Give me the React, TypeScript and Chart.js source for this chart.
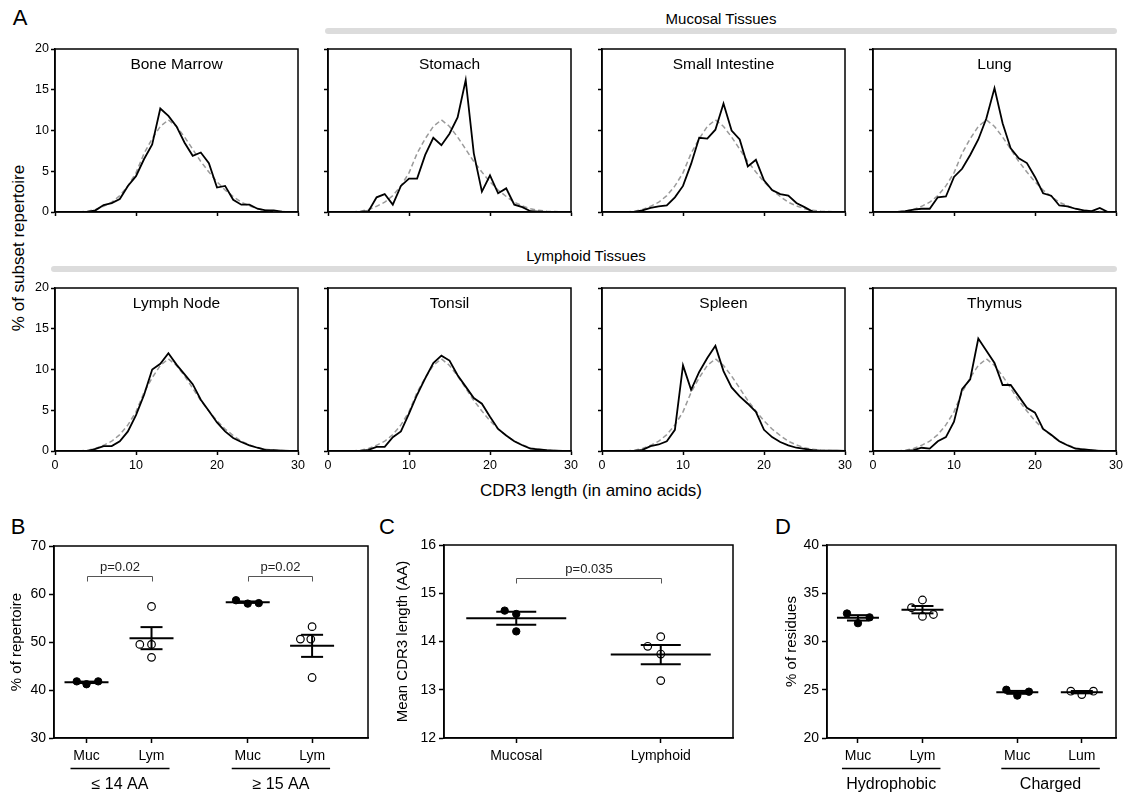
import React, { useEffect, useRef } from "react";
import { Chart, registerables } from "chart.js";

Chart.register(...registerables);

const FONT = 'Arial, "Liberation Sans", Helvetica, sans-serif';

// ---------------- Panel A data ----------------
const cdr3Lengths = [0, 1, 2, 3, 4, 5, 6, 7, 8, 9, 10, 11, 12, 13, 14, 15, 16, 17, 18, 19, 20, 21, 22, 23, 24, 25, 26, 27, 28, 29, 30];
const referenceDist = [0, 0, 0, 0, 0.1, 0.3, 0.7, 1.2, 2.0, 3.2, 4.8, 7.2, 9.0, 10.5, 11.3, 10.5, 9.2, 7.7, 6.2, 4.9, 3.7, 2.7, 1.9, 1.2, 0.75, 0.4, 0.2, 0.1, 0.05, 0, 0];
const boneMarrow = [0, 0, 0, 0, 0, 0.2, 0.85, 1.1, 1.6, 3.2, 4.4, 6.5, 8.3, 12.7, 11.8, 10.5, 8.5, 6.9, 7.3, 6.0, 3.0, 3.2, 1.5, 0.9, 0.9, 0.4, 0.2, 0.2, 0.05, 0, 0];
const stomach = [0, 0, 0, 0, 0, 0.1, 1.8, 2.2, 0.9, 3.2, 4.1, 4.1, 7.0, 9.1, 8.2, 9.6, 11.6, 16.2, 7.2, 2.5, 4.5, 2.3, 2.9, 0.9, 0.6, 0.1, 0.05, 0, 0, 0, 0];
const smallIntestine = [0, 0, 0, 0, 0, 0.2, 0.5, 0.7, 0.8, 1.8, 3.2, 5.9, 9.1, 9.0, 10.1, 13.3, 10.0, 8.9, 5.6, 6.4, 3.9, 2.7, 2.2, 2.0, 1.1, 0.6, 0.05, 0, 0, 0, 0];
const lung = [0, 0, 0, 0, 0.1, 0.3, 0.4, 0.4, 1.8, 1.9, 4.3, 5.3, 7.0, 8.9, 11.5, 15.2, 10.9, 7.8, 6.6, 6.0, 4.3, 2.3, 2.0, 0.8, 0.7, 0.4, 0.2, 0.1, 0.5, 0, 0];
const lymphNode = [0, 0, 0, 0, 0, 0.25, 0.6, 0.6, 1.2, 2.4, 4.4, 6.9, 10.0, 10.7, 12.0, 10.6, 9.4, 8.2, 6.3, 4.9, 3.5, 2.4, 1.6, 1.1, 0.7, 0.4, 0.15, 0.1, 0.05, 0, 0];
const tonsil = [0, 0, 0, 0, 0, 0.15, 0.5, 0.5, 1.7, 2.4, 4.6, 6.9, 8.9, 10.8, 11.7, 11.1, 9.3, 7.9, 6.5, 5.8, 4.2, 2.7, 1.9, 1.2, 0.7, 0.3, 0.2, 0.1, 0.05, 0, 0];
const spleen = [0, 0, 0, 0, 0, 0.15, 0.6, 0.8, 1.2, 2.6, 10.5, 7.5, 9.7, 11.4, 12.9, 9.8, 7.8, 6.7, 5.8, 4.8, 2.6, 1.7, 1.1, 0.7, 0.4, 0.25, 0.1, 0.05, 0.05, 0.05, 0];
const thymus = [0, 0, 0, 0, 0, 0.1, 0.4, 0.3, 1.2, 1.7, 3.6, 7.6, 8.8, 13.8, 12.3, 10.8, 8.1, 8.1, 6.7, 5.3, 4.7, 2.7, 2.0, 1.2, 0.7, 0.3, 0.2, 0.1, 0, 0, 0];
const histTitles = ["Bone Marrow", "Stomach", "Small Intestine", "Lung", "Lymph Node", "Tonsil", "Spleen", "Thymus"];
const histSeries = [boneMarrow, stomach, smallIntestine, lung, lymphNode, tonsil, spleen, thymus];
const histXTicks = [0, 10, 20, 30];
const histYTicks = [0, 5, 10, 15, 20];

// ---------------- Panel B data ----------------
const bGroupX = [1, 2, 3.48, 4.47];
const bTickLabels = ["Muc", "Lym", "Muc", "Lym"];
const bGroupTitles = ["≤ 14 AA", "≥ 15 AA"];
const bGroupFilled = [true, false, true, false];
const bPointGroup = [0, 0, 0, 1, 1, 1, 1, 2, 2, 2, 3, 3, 3, 3];
const bPointJitter = [-0.15, 0, 0.18, -0.18, 0, 0, 0, -0.18, 0, 0.17, -0.18, -0.02, 0, 0];
const bPointValue = [41.8, 41.2, 41.8, 49.5, 49.5, 57.4, 46.8, 58.7, 58.0, 58.1, 50.6, 50.6, 53.2, 42.6];
const bMeans = [41.6, 50.8, 58.3, 49.2];
const bSems = [0.15, 2.3, 0.15, 2.3];
const bPValues = ["p=0.02", "p=0.02"];
const bBracketLevel = 63.8;
const bYTicks = [30, 40, 50, 60, 70];

// ---------------- Panel C data ----------------
const cGroupX = [1, 2];
const cTickLabels = ["Mucosal", "Lymphoid"];
const cGroupFilled = [true, false];
const cPointGroup = [0, 0, 0, 1, 1, 1, 1];
const cPointJitter = [-0.08, 0, 0, -0.09, 0, 0, 0];
const cPointValue = [14.64, 14.57, 14.21, 13.9, 14.1, 13.74, 13.19];
const cMeans = [14.48, 13.73];
const cSems = [0.135, 0.2];
const cPValues = ["p=0.035"];
const cBracketLevel = 15.32;
const cYTicks = [12, 13, 14, 15, 16];

// ---------------- Panel D data ----------------
const dGroupX = [1, 2, 3.47, 4.47];
const dTickLabels = ["Muc", "Lym", "Muc", "Lum"];
const dGroupTitles = ["Hydrophobic", "Charged"];
const dGroupFilled = [true, false, true, false];
const dPointGroup = [0, 0, 0, 1, 1, 1, 1, 2, 2, 2, 3, 3, 3];
const dPointJitter = [-0.17, 0, 0.18, -0.17, 0, 0, 0.17, -0.17, 0, 0.18, -0.17, 0, 0.18];
const dPointValue = [32.9, 31.9, 32.5, 33.5, 34.3, 32.6, 32.8, 25.0, 24.4, 24.8, 24.85, 24.5, 24.85];
const dMeans = [32.45, 33.3, 24.73, 24.75];
const dSems = [0.28, 0.38, 0.15, 0.12];
const dYTicks = [20, 25, 30, 35, 40];

// ---------------- helpers ----------------
const boxPlugin = {
  id: "boxFrame",
  afterDraw(chart: any) {
    const { ctx, chartArea } = chart;
    ctx.save();
    ctx.strokeStyle = "#000";
    ctx.lineWidth = 1.5;
    ctx.strokeRect(chartArea.left, chartArea.top, chartArea.right - chartArea.left, chartArea.bottom - chartArea.top);
    ctx.restore();
  },
};

function titlePlugin(text: string) {
  return {
    id: "panelTitle",
    afterDraw(chart: any) {
      const { ctx, chartArea } = chart;
      ctx.save();
      ctx.font = `15.5px ${FONT}`;
      ctx.fillStyle = "#000";
      ctx.textAlign = "center";
      ctx.textBaseline = "middle";
      ctx.fillText(text, (chartArea.left + chartArea.right) / 2, chartArea.top + 16);
      ctx.restore();
    },
  };
}

function histConfig(title: string, values: number[], showX: boolean, showY: boolean) {
  return {
    type: "line",
    data: {
      datasets: [
        {
          data: cdr3Lengths.map((x, i) => ({ x, y: values[i] })),
          borderColor: "#000",
          borderWidth: 1.8,
          pointRadius: 0,
          tension: 0,
        },
        {
          data: cdr3Lengths.map((x, i) => ({ x, y: referenceDist[i] })),
          borderColor: "#9a9a9a",
          borderDash: [5, 3],
          borderWidth: 1.5,
          pointRadius: 0,
          tension: 0,
        },
      ],
    },
    options: {
      responsive: false,
      animation: false,
      devicePixelRatio: 1,
      layout: { padding: { top: 10, right: 10, left: 0, bottom: 0 } },
      plugins: { legend: { display: false }, tooltip: { enabled: false } },
      scales: {
        x: {
          type: "linear",
          min: 0,
          max: 30,
          afterBuildTicks: (s: any) => {
            s.ticks = histXTicks.map((v) => ({ value: v }));
          },
          ticks: { display: showX, font: { family: FONT, size: 12.5 }, color: "#000", padding: 3, maxRotation: 0, autoSkip: false },
          grid: { display: true, drawOnChartArea: false, drawTicks: true, tickLength: 4, tickColor: "#000", tickWidth: 1.5 },
          border: { display: true, color: "#000", width: 1.5 },
          afterFit: (s: any) => {
            s.height = 25;
          },
        },
        y: {
          min: 0,
          max: 20,
          afterBuildTicks: (s: any) => {
            s.ticks = histYTicks.map((v) => ({ value: v }));
          },
          ticks: { display: showY, font: { family: FONT, size: 12.5 }, color: "#000", padding: 2 },
          grid: { display: true, drawOnChartArea: false, drawTicks: true, tickLength: 4, tickColor: "#000", tickWidth: 1.5 },
          border: { display: true, color: "#000", width: 1.5 },
          afterFit: (s: any) => {
            s.width = 40;
          },
        },
      },
    },
    plugins: [boxPlugin, titlePlugin(title)],
  };
}

interface DotPanel {
  groupX: number[];
  tickLabels: string[];
  filled: boolean[];
  pointGroup: number[];
  jitter: number[];
  values: number[];
  means: number[];
  sems: number[];
  yTicks: number[];
  xMin: number;
  xMax: number;
  yTitle: string;
  titlePad: number;
  axisW: number;
  meanHalf: number;
  capHalf: number;
  brackets: { g1: number; g2: number; level: number; text: string }[];
  groupTitles: { g1: number; g2: number; text: string }[];
}

function dotConfig(p: DotPanel) {
  const filledPts: { x: number; y: number }[] = [];
  const openPts: { x: number; y: number }[] = [];
  p.values.forEach((v, i) => {
    const g = p.pointGroup[i];
    const pt = { x: p.groupX[g] + p.jitter[i], y: v };
    (p.filled[g] ? filledPts : openPts).push(pt);
  });
  const overlay = {
    id: "dotOverlay",
    afterDatasetsDraw(chart: any) {
      const { ctx, scales } = chart;
      const xs = scales.x;
      const ys = scales.y;
      ctx.save();
      ctx.strokeStyle = "#000";
      ctx.lineWidth = 2;
      const line = (x1: number, y1: number, x2: number, y2: number) => {
        ctx.beginPath();
        ctx.moveTo(x1, y1);
        ctx.lineTo(x2, y2);
        ctx.stroke();
      };
      p.means.forEach((m, g) => {
        const cx = xs.getPixelForValue(p.groupX[g]);
        const my = ys.getPixelForValue(m);
        const hi = ys.getPixelForValue(m + p.sems[g]);
        const lo = ys.getPixelForValue(m - p.sems[g]);
        line(cx, hi, cx, lo);
        line(cx - p.capHalf, hi, cx + p.capHalf, hi);
        line(cx - p.capHalf, lo, cx + p.capHalf, lo);
        line(cx - p.meanHalf, my, cx + p.meanHalf, my);
      });
      // significance brackets
      ctx.strokeStyle = "#555";
      ctx.lineWidth = 1;
      ctx.fillStyle = "#222";
      ctx.font = `13px ${FONT}`;
      ctx.textAlign = "center";
      ctx.textBaseline = "alphabetic";
      p.brackets.forEach((b) => {
        const x1 = Math.round(xs.getPixelForValue(p.groupX[b.g1])) + 0.5;
        const x2 = Math.round(xs.getPixelForValue(p.groupX[b.g2])) + 0.5;
        const y = Math.round(ys.getPixelForValue(b.level)) + 0.5;
        ctx.beginPath();
        ctx.moveTo(x1, y + 5);
        ctx.lineTo(x1, y);
        ctx.lineTo(x2, y);
        ctx.lineTo(x2, y + 5);
        ctx.stroke();
        ctx.fillText(b.text, (x1 + x2) / 2, y - 6);
      });
      ctx.restore();
    },
    afterDraw(chart: any) {
      const { ctx, scales, chartArea } = chart;
      const xs = scales.x;
      ctx.save();
      ctx.strokeStyle = "#000";
      ctx.lineWidth = 1.3;
      ctx.fillStyle = "#000";
      ctx.font = `16px ${FONT}`;
      ctx.textAlign = "center";
      ctx.textBaseline = "middle";
      p.groupTitles.forEach((gt) => {
        const x1 = xs.getPixelForValue(p.groupX[gt.g1]) - 16;
        const x2 = xs.getPixelForValue(p.groupX[gt.g2]) + 18;
        const y = chartArea.bottom + 30.5;
        ctx.beginPath();
        ctx.moveTo(x1, y);
        ctx.lineTo(x2, y);
        ctx.stroke();
        ctx.fillText(gt.text, (x1 + x2) / 2, chartArea.bottom + 47);
      });
      ctx.restore();
    },
  };
  return {
    type: "scatter",
    data: {
      datasets: [
        {
          data: filledPts,
          pointRadius: 3.7,
          pointBackgroundColor: "#000",
          pointBorderColor: "#000",
          pointBorderWidth: 1,
        },
        {
          data: openPts,
          pointRadius: 3.8,
          pointBackgroundColor: "#fff",
          pointBorderColor: "#000",
          pointBorderWidth: 1.2,
        },
      ],
    },
    options: {
      responsive: false,
      animation: false,
      devicePixelRatio: 1,
      layout: { padding: { top: 14, right: 10, left: 0, bottom: 0 } },
      plugins: { legend: { display: false }, tooltip: { enabled: false } },
      scales: {
        x: {
          type: "linear",
          min: p.xMin,
          max: p.xMax,
          afterBuildTicks: (s: any) => {
            s.ticks = p.groupX.map((v) => ({ value: v }));
          },
          ticks: {
            font: { family: FONT, size: 14 },
            color: "#000",
            padding: 5,
            maxRotation: 0,
            autoSkip: false,
            callback: (_v: any, i: number) => p.tickLabels[i],
          },
          grid: { display: true, drawOnChartArea: false, drawTicks: true, tickLength: 5, tickColor: "#000", tickWidth: 1.5 },
          border: { display: true, color: "#000", width: 1.5 },
          afterFit: (s: any) => {
            s.height = 60;
          },
        },
        y: {
          min: p.yTicks[0],
          max: p.yTicks[p.yTicks.length - 1],
          afterBuildTicks: (s: any) => {
            s.ticks = p.yTicks.map((v) => ({ value: v }));
          },
          ticks: { font: { family: FONT, size: 14 }, color: "#000", padding: 3 },
          grid: { display: true, drawOnChartArea: false, drawTicks: true, tickLength: 5, tickColor: "#000", tickWidth: 1.5 },
          border: { display: true, color: "#000", width: 1.5 },
          title: {
            display: true,
            text: p.yTitle,
            color: "#000",
            font: { family: FONT, size: 15 },
            padding: { top: p.titlePad, bottom: 0 },
          },
          afterFit: (s: any) => {
            s.width = p.axisW;
          },
        },
      },
    },
    plugins: [boxPlugin, overlay],
  };
}

function ChartCanvas(props: { left: number; top: number; width: number; height: number; make: () => any }) {
  const ref = useRef<HTMLCanvasElement>(null);
  useEffect(() => {
    const chart = new Chart(ref.current as HTMLCanvasElement, props.make());
    return () => chart.destroy();
  }, []);
  return (
    <canvas
      ref={ref}
      width={props.width}
      height={props.height}
      style={{ position: "absolute", left: props.left, top: props.top, width: props.width, height: props.height }}
    />
  );
}

function Label(props: { x: number; y: number; size: number; text: string; rotate?: boolean }) {
  return (
    <div
      style={{
        position: "absolute",
        left: props.x,
        top: props.y,
        transform: `translate(-50%, -50%)${props.rotate ? " rotate(-90deg)" : ""}`,
        fontSize: props.size,
        lineHeight: 1,
        whiteSpace: "nowrap",
        color: "#000",
      }}
    >
      {props.text}
    </div>
  );
}

export default function App() {
  const colLeft = [55, 328, 602, 873];
  const rowTop = [49, 288];
  const plotW = 243;
  const plotH = 163;

  const panelB: DotPanel = {
    groupX: bGroupX, tickLabels: bTickLabels, filled: bGroupFilled, pointGroup: bPointGroup, jitter: bPointJitter,
    values: bPointValue, means: bMeans, sems: bSems, yTicks: bYTicks, xMin: 0.5, xMax: 5.33,
    yTitle: "% of repertoire", titlePad: 8, axisW: 54, meanHalf: 22, capHalf: 11,
    brackets: [
      { g1: 0, g2: 1, level: bBracketLevel, text: bPValues[0] },
      { g1: 2, g2: 3, level: bBracketLevel, text: bPValues[1] },
    ],
    groupTitles: [
      { g1: 0, g2: 1, text: bGroupTitles[0] },
      { g1: 2, g2: 3, text: bGroupTitles[1] },
    ],
  };
  const panelC: DotPanel = {
    groupX: cGroupX, tickLabels: cTickLabels, filled: cGroupFilled, pointGroup: cPointGroup, jitter: cPointJitter,
    values: cPointValue, means: cMeans, sems: cSems, yTicks: cYTicks, xMin: 0.5, xMax: 2.5,
    yTitle: "Mean CDR3 length (AA)", titlePad: 10, axisW: 60, meanHalf: 50, capHalf: 20,
    brackets: [{ g1: 0, g2: 1, level: cBracketLevel, text: cPValues[0] }],
    groupTitles: [],
  };
  const panelD: DotPanel = {
    groupX: dGroupX, tickLabels: dTickLabels, filled: dGroupFilled, pointGroup: dPointGroup, jitter: dPointJitter,
    values: dPointValue, means: dMeans, sems: dSems, yTicks: dYTicks, xMin: 0.52, xMax: 5.0,
    yTitle: "% of residues", titlePad: 16, axisW: 60, meanHalf: 21, capHalf: 11,
    brackets: [],
    groupTitles: [
      { g1: 0, g2: 1, text: dGroupTitles[0] },
      { g1: 2, g2: 3, text: dGroupTitles[1] },
    ],
  };

  return (
    <div style={{ position: "absolute", left: 0, top: 0, width: 1128, height: 798, background: "#fff", fontFamily: FONT, overflow: "hidden" }}>
      {/* Panel letters */}
      <Label x={20} y={18} size={22} text="A" />
      <Label x={18} y={527} size={22} text="B" />
      <Label x={387} y={527} size={22} text="C" />
      <Label x={783} y={527} size={22} text="D" />

      {/* Group bars */}
      <Label x={721} y={18} size={15} text="Mucosal Tissues" />
      <div style={{ position: "absolute", left: 325, top: 28, width: 792, height: 6, borderRadius: 3, background: "#dcdcdc" }} />
      <Label x={586} y={255} size={15} text="Lymphoid Tissues" />
      <div style={{ position: "absolute", left: 51, top: 266, width: 1066, height: 6, borderRadius: 3, background: "#dcdcdc" }} />

      {/* Shared axis labels for A */}
      <Label x={18} y={248} size={17} text="% of subset repertoire" rotate />
      <Label x={591} y={490} size={17} text="CDR3 length (in amino acids)" />

      {histSeries.map((vals, i) => {
        const row = Math.floor(i / 4);
        const col = i % 4;
        return (
          <ChartCanvas
            key={i}
            left={colLeft[col] - 40}
            top={rowTop[row] - 10}
            width={plotW + 50}
            height={plotH + 35}
            make={() => histConfig(histTitles[i], vals, row === 1, col === 0)}
          />
        );
      })}

      <ChartCanvas left={0} top={532} width={378} height={266} make={() => dotConfig(panelB)} />
      <ChartCanvas left={384} top={531} width={359} height={267} make={() => dotConfig(panelC)} />
      <ChartCanvas left={767} top={531} width={359} height={267} make={() => dotConfig(panelD)} />
    </div>
  );
}
